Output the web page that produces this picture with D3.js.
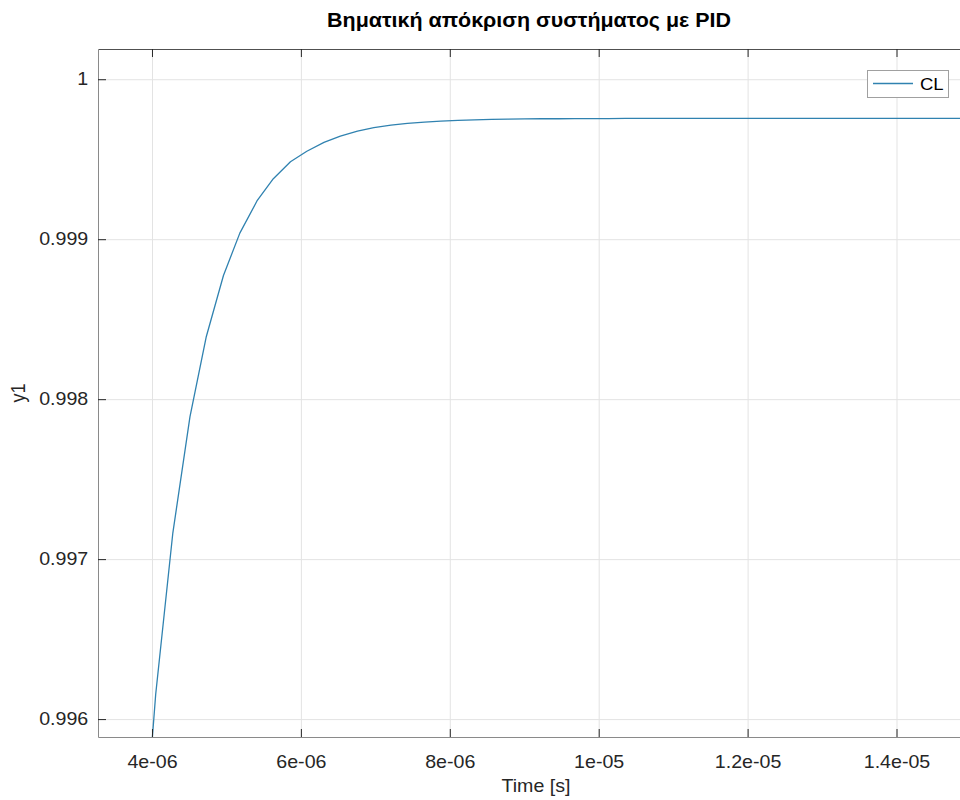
<!DOCTYPE html>
<html>
<head>
<meta charset="utf-8">
<script src="https://cdn.jsdelivr.net/npm/d3@7"></script>
<style>
  html, body { margin: 0; padding: 0; background: #ffffff; }
  svg { display: block; font-family: "Liberation Sans", Arial, Helvetica, sans-serif; }
</style>
</head>
<body>
<svg id="chart" width="960" height="800"></svg>
<script>
// Closed-loop step response samples (time in seconds, output y1)
const timeSec = [
  3.83e-6, 4.05e-6, 4.28e-6, 4.51e-6, 4.73e-6, 4.96e-6, 5.18e-6, 5.41e-6,
  5.63e-6, 5.86e-6, 6.08e-6, 6.31e-6, 6.53e-6, 6.76e-6, 6.98e-6, 7.21e-6,
  7.43e-6, 7.66e-6, 7.88e-6, 8.11e-6, 8.33e-6, 8.56e-6, 8.78e-6, 9.01e-6,
  9.23e-6, 9.46e-6, 9.68e-6, 9.91e-6, 1.013e-5, 1.036e-5, 1.058e-5, 1.081e-5,
  1.103e-5, 1.126e-5, 1.148e-5, 1.171e-5, 1.193e-5, 1.216e-5, 1.238e-5, 1.261e-5,
  1.283e-5, 1.306e-5, 1.328e-5, 1.351e-5, 1.373e-5, 1.396e-5, 1.418e-5, 1.441e-5,
  1.463e-5, 1.486e-5, 1.508e-5
];
const y1Values = [
  0.994825, 0.996155, 0.997163, 0.997889, 0.998392, 0.998773, 0.999038, 0.999239,
  0.999378, 0.999484, 0.999550, 0.999605, 0.999645, 0.999675, 0.999697, 0.999713,
  0.999724, 0.999732, 0.999738, 0.999743, 0.999746, 0.999749, 0.999751, 0.999752,
  0.999753, 0.999753, 0.999754, 0.999754, 0.999754, 0.999755, 0.999755, 0.999755,
  0.999755, 0.999755, 0.999755, 0.999755, 0.999755, 0.999755, 0.999755, 0.999755,
  0.999755, 0.999755, 0.999755, 0.999755, 0.999755, 0.999755, 0.999755, 0.999755,
  0.999755, 0.999755, 0.999755
];

const xTickValues = [4e-6, 6e-6, 8e-6, 1e-5, 1.2e-5, 1.4e-5];
const xTickLabels = ["4e-06", "6e-06", "8e-06", "1e-05", "1.2e-05", "1.4e-05"];
const yTickValues = [0.996, 0.997, 0.998, 0.999, 1];
const yTickLabels = ["0.996", "0.997", "0.998", "0.999", "1"];

const xDomain = [3.275e-6, 1.492e-5];
const yDomain = [0.995888, 1.000189];

const titleText = "Βηματική απόκριση συστήματος με PID";
const xLabelText = "Time [s]";
const yLabelText = "y1";
const legendText = "CL";

// Plot box
const plotLeft = 98, plotTop = 49, plotRight = 965, plotBottom = 737;
const plotW = plotRight - plotLeft, plotH = plotBottom - plotTop;
const lineColor = "#3082b0";
const textColor = "#262626";
const fontPx = 18;
const stretch = "scale(1.09,1)";   // glyphs are drawn slightly wide

const svg = d3.select("#chart");

const x = d3.scaleLinear().domain(xDomain).range([plotLeft, plotRight]);
const y = d3.scaleLinear().domain(yDomain).range([plotBottom, plotTop]);

// Grid
const grid = svg.append("g").attr("class", "grid");
grid.append("g")
  .attr("transform", `translate(0,${plotBottom})`)
  .call(d3.axisBottom(x).tickValues(xTickValues).tickSize(-plotH).tickFormat(""))
  .call(g => g.select(".domain").remove())
  .call(g => g.selectAll("line").attr("stroke", "#e3e3e3").attr("stroke-width", 1));
grid.append("g")
  .attr("transform", `translate(${plotLeft},0)`)
  .call(d3.axisLeft(y).tickValues(yTickValues).tickSize(-plotW).tickFormat(""))
  .call(g => g.select(".domain").remove())
  .call(g => g.selectAll("line").attr("stroke", "#e3e3e3").attr("stroke-width", 1));

// Data line
svg.append("clipPath").attr("id", "plotClip")
  .append("rect").attr("x", plotLeft).attr("y", plotTop).attr("width", plotW).attr("height", plotH);

const pts = timeSec.map((t, i) => [t, y1Values[i]]);
svg.append("path")
  .datum(pts)
  .attr("clip-path", "url(#plotClip)")
  .attr("fill", "none")
  .attr("stroke", lineColor)
  .attr("stroke-width", 1.3)
  .attr("stroke-linejoin", "round")
  .attr("d", d3.line().x(d => x(d[0])).y(d => y(d[1])));

// Axes frame and inward ticks
const fmtX = d => xTickLabels[xTickValues.indexOf(d)];
const fmtY = d => yTickLabels[yTickValues.indexOf(d)];

const xAxis = svg.append("g")
  .attr("transform", `translate(0,${plotBottom})`)
  .call(d3.axisBottom(x).tickValues(xTickValues).tickFormat(fmtX)
    .tickSizeInner(-8).tickSizeOuter(0).tickPadding(18));
xAxis.select(".domain").attr("stroke", "#8a8a8a");
xAxis.selectAll(".tick line").attr("stroke", textColor);
xAxis.selectAll(".tick text").attr("fill", textColor)
  .style("font-size", fontPx + "px").attr("transform", stretch);

const xAxisTop = svg.append("g")
  .attr("transform", `translate(0,${plotTop})`)
  .call(d3.axisTop(x).tickValues(xTickValues).tickFormat("")
    .tickSizeInner(-8).tickSizeOuter(0));
xAxisTop.select(".domain").attr("stroke", "#505050");
xAxisTop.selectAll(".tick line").attr("stroke", textColor);

const yAxis = svg.append("g")
  .attr("transform", `translate(${plotLeft},0)`)
  .call(d3.axisLeft(y).tickValues(yTickValues).tickFormat(fmtY)
    .tickSizeInner(-8).tickSizeOuter(0).tickPadding(9));
yAxis.select(".domain").attr("stroke", "#8a8a8a");
yAxis.selectAll(".tick line").attr("stroke", textColor);
yAxis.selectAll(".tick text").attr("fill", textColor)
  .style("font-size", fontPx + "px").attr("transform", stretch);

// Title and axis labels
svg.append("text")
  .attr("transform", "translate(529,27) scale(1.1,1)")
  .attr("text-anchor", "middle")
  .style("font-size", "19.5px").style("font-weight", "bold")
  .attr("fill", "#000")
  .text(titleText);

svg.append("text")
  .attr("transform", `translate(536,792) ${stretch}`)
  .attr("text-anchor", "middle")
  .style("font-size", fontPx + "px")
  .attr("fill", textColor)
  .text(xLabelText);

svg.append("text")
  .attr("transform", `translate(25,${(plotTop + plotBottom) / 2}) rotate(-90) scale(1,1.09)`)
  .attr("text-anchor", "middle")
  .style("font-size", fontPx + "px")
  .attr("fill", textColor)
  .text(yLabelText);

// Legend
const lg = svg.append("g");
lg.append("rect")
  .attr("x", 867.5).attr("y", 70.5).attr("width", 81).attr("height", 27)
  .attr("fill", "#fff").attr("stroke", "#a0a0a0").attr("stroke-width", 1);
lg.append("line")
  .attr("x1", 873).attr("x2", 913).attr("y1", 83.5).attr("y2", 83.5)
  .attr("stroke", lineColor).attr("stroke-width", 1.3);
lg.append("text")
  .attr("transform", "translate(920,90) scale(1.09,1)")
  .style("font-size", "17px")
  .attr("fill", "#000")
  .text(legendText);
</script>
</body>
</html>
